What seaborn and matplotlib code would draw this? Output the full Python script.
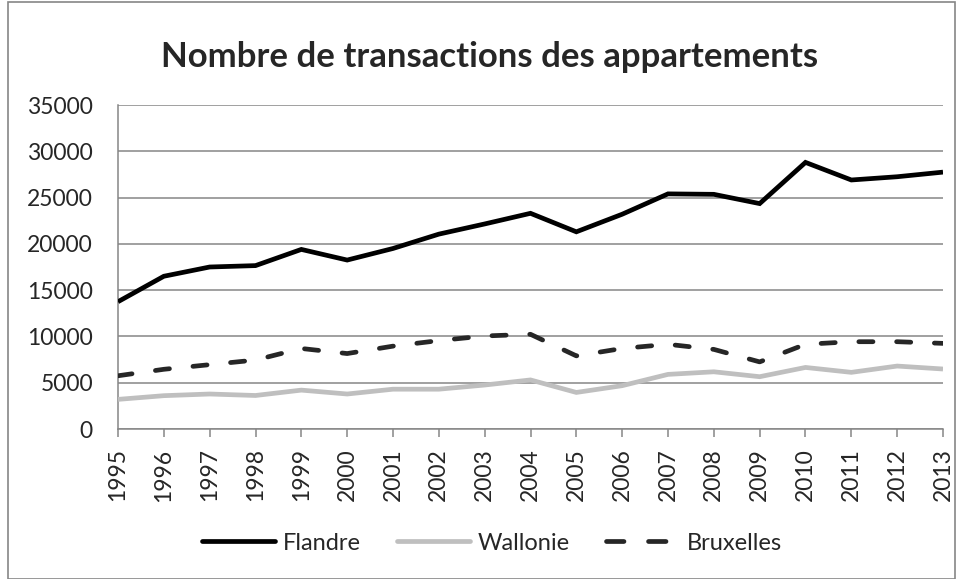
import matplotlib
matplotlib.use("Agg")
import matplotlib.pyplot as plt
import seaborn as sns
import pandas as pd
from matplotlib.patches import Rectangle
from matplotlib.lines import Line2D

years = [str(y) for y in range(1995, 2014)]
flandre = [13750, 16500, 17500, 17650, 19400, 18250, 19500, 21050, 22150, 23300,
           21300, 23200, 25400, 25350, 24350, 28800, 26900, 27250, 27750]
wallonie = [3200, 3600, 3780, 3620, 4200, 3780, 4300, 4300, 4750, 5300,
            3950, 4680, 5900, 6180, 5650, 6650, 6120, 6800, 6480]
bruxelles = [5750, 6450, 6950, 7450, 8700, 8150, 8950, 9550, 10050, 10230,
             7900, 8700, 9150, 8600, 7250, 9150, 9430, 9430, 9250]
series_names = ["Flandre", "Wallonie", "Bruxelles"]
title = "Nombre de transactions des appartements"

sns.set_theme(style="white")
plt.rcParams['font.family'] = ['Lato', 'DejaVu Sans']

df = pd.DataFrame({
    "x": list(range(len(years))) * 3,
    "value": flandre + wallonie + bruxelles,
    "serie": [series_names[0]] * len(years) + [series_names[1]] * len(years) + [series_names[2]] * len(years),
})

colors = {"Flandre": "#000000", "Wallonie": "#bfbfbf", "Bruxelles": "#262626"}
dashes = {"Flandre": "", "Wallonie": "", "Bruxelles": (3.0, 5.0)}

fig = plt.figure(figsize=(9.57, 5.79), dpi=100)
ax = fig.add_axes([118 / 957, 1 - 429 / 579, (943 - 118) / 957, (429 - 105) / 579])

sns.lineplot(data=df, x="x", y="value", hue="serie", style="serie",
             palette=colors, dashes=dashes, linewidth=3.4, ax=ax, legend=False,
             zorder=3)
for l in ax.lines:
    l.set_solid_capstyle("butt")
    l.set_dash_capstyle("round")
    l.set_solid_joinstyle("miter")

ax.set_xlim(0, len(years) - 1)
ax.set_ylim(0, 35000)
ax.set_yticks(range(0, 35001, 5000))
ax.set_yticklabels([str(v) for v in range(0, 35001, 5000)], fontsize=16.5)
ax.set_xticks(range(len(years)))
ax.set_xticklabels(years, rotation=90, fontsize=16.5)
ax.set_xlabel("")
ax.set_ylabel("")
ax.grid(axis="y", color="#868686", linewidth=1.1)
ax.set_axisbelow(True)
for s in ["top", "right"]:
    ax.spines[s].set_visible(False)
for s in ["left", "bottom"]:
    ax.spines[s].set_color("#868686")
    ax.spines[s].set_linewidth(1.1)
ax.tick_params(axis="x", bottom=True, length=6, width=1.1, color="#868686", pad=8)
ax.tick_params(axis="y", left=False, pad=12)

fig.text(490 / 957, 1 - 57 / 579, title, ha="center", va="center",
         fontsize=25, fontweight="bold")

handles = [Line2D([], [], color=colors["Flandre"], lw=3.4, solid_capstyle="round"),
           Line2D([], [], color=colors["Wallonie"], lw=3.4, solid_capstyle="round"),
           Line2D([], [], color=colors["Bruxelles"], lw=3.4, dashes=(3.7, 5.2), dash_capstyle="round")]
fig.legend(handles, series_names, loc="center", bbox_to_anchor=(492 / 957, 1 - 543 / 579),
           ncol=3, frameon=False, fontsize=17, handlelength=3.1, columnspacing=1.5,
           handletextpad=0.35)

fig.patches.append(Rectangle((8 / 957, 0), 1 - 10 / 957, 1 - 2 / 579, transform=fig.transFigure,
                             fill=False, edgecolor="#868686", linewidth=1.2))

fig.savefig("out.png", dpi=100, facecolor="white")
